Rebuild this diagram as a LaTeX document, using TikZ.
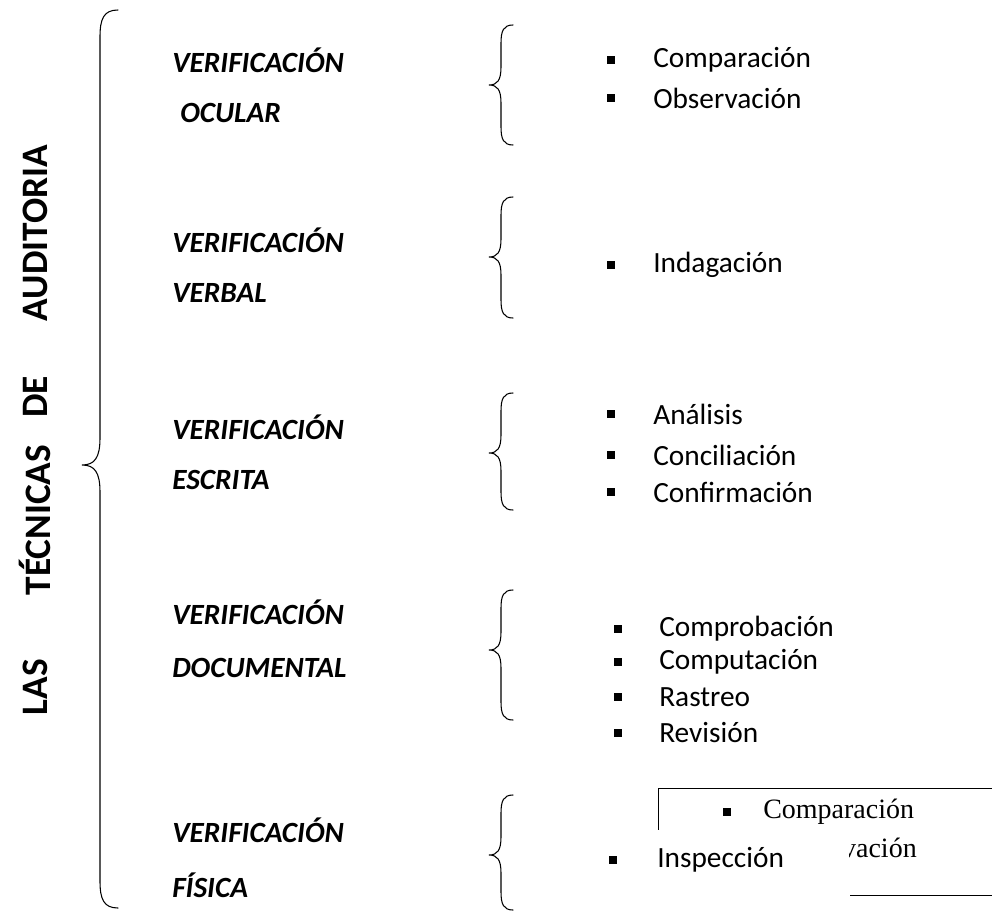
\documentclass[tikz,border=0pt]{standalone}
\usepackage{fontspec}
\setmainfont{Carlito}
\newfontfamily\cajafont{Liberation Serif}

\tikzset{
  llave/.style={line width=0.8pt, line cap=round},
  titulo/.style={rotate=90, inner sep=0pt, font=\fontsize{28}{32}\selectfont\bfseries},
  tecnica/.style={anchor=west, inner sep=0pt, font=\fontsize{22}{26}\selectfont\bfseries\itshape},
  item/.style={anchor=west, inner sep=0pt, font=\fontsize{22}{26}\selectfont},
  vineta/.style={fill, minimum size=5.5pt, inner sep=0pt},
  cajaitem/.style={inner sep=0pt, font=\fontsize{21}{24}\cajafont}
}

% brace: x, top, tip, bottom, reach
\newcommand{\llave}[5]{%
  \draw[llave] ({#1+#5},#2) .. controls ({#1+0.2*#5},#2) and (#1,{#2+0.5*#5}) .. (#1,{#2+1.5*#5})
    -- (#1,{#3-1.5*#5}) .. controls (#1,{#3-0.4*#5}) and ({#1-0.3*#5},#3) .. ({#1-#5},#3)
    .. controls ({#1-0.3*#5},#3) and (#1,{#3+0.4*#5}) .. (#1,{#3+1.5*#5})
    -- (#1,{#4-1.5*#5}) .. controls (#1,{#4-0.5*#5}) and ({#1+0.2*#5},#4) .. ({#1+#5},#4);}

\begin{document}
\begin{tikzpicture}[x=0.75pt, y=-0.75pt]
    \useasboundingbox (0,0) rectangle (992,913);

    % Title
    \node[titulo] (t1) at (35,687) {LAS};
    \node[titulo] (t2) at (35,520) {TÉCNICAS};
    \node[titulo] (t3) at (35,397) {DE};
    \node[titulo] (t4) at (35,233) {AUDITORIA};

    % Big brace
    \llave{100}{10}{465}{908}{18}

    % Verificacion ocular
    \node[tecnica] (v1a) at (172,60) {VERIFICACIÓN};
    \node[tecnica] (v1b) at (180,113) {OCULAR};
    \llave{501}{25}{85}{145}{12}
    \node[vineta] (b11) at (611,60) {};
    \node[item] (i11) at (653,60) {Comparación};
    \node[vineta] (b12) at (611,98) {};
    \node[item] (i12) at (653,98) {Observación};

    % Verificacion verbal
    \node[tecnica] (v2a) at (172,240) {VERIFICACIÓN};
    \node[tecnica] (v2b) at (172,293) {VERBAL};
    \llave{501}{197}{257}{318}{12}
    \node[vineta] (b21) at (611,265) {};
    \node[item] (i21) at (653,265) {Indagación};

    % Verificacion escrita
    \node[tecnica] (v3a) at (172,427) {VERIFICACIÓN};
    \node[tecnica] (v3b) at (172,480) {ESCRITA};
    \llave{501}{393}{453}{510}{12}
    \node[vineta] (b31) at (611,414) {};
    \node[item] (i31) at (653,414) {Análisis};
    \node[vineta] (b32) at (611,455) {};
    \node[item] (i32) at (653,455) {Conciliación};
    \node[vineta] (b33) at (611,492) {};
    \node[item] (i33) at (653,492) {Confirmación};

    % Verificacion documental
    \node[tecnica] (v4a) at (172,612) {VERIFICACIÓN};
    \node[tecnica] (v4b) at (172,668) {DOCUMENTAL};
    \llave{501}{590}{650}{720}{12}
    \node[vineta] (b41) at (618,629) {};
    \node[item] (i41) at (659,629) {Comprobación};
    \node[vineta] (b42) at (618,662) {};
    \node[item] (i42) at (659,662) {Computación};
    \node[vineta] (b43) at (618,697) {};
    \node[item] (i43) at (659,697) {Rastreo};
    \node[vineta] (b44) at (618,733) {};
    \node[item] (i44) at (659,733) {Revisión};

    % Verificacion fisica
    \node[tecnica] (v5a) at (172,830) {VERIFICACIÓN};
    \node[tecnica] (v5b) at (172,885) {FÍSICA};
    \llave{501}{795}{855}{910}{12}

    % Stray text box
    \draw[line width=0.6pt] (658,830) -- (658,788) -- (992,788);
    \draw[line width=0.6pt] (850,895) -- (992,895);
    \node[vineta] (b51) at (727,812) {};
    \node[cajaitem, anchor=west] (i51) at (763,812) {Comparación};
    \node[cajaitem, anchor=east] (i52) at (917,848) {Observación};
    \fill[white] (600,830) rectangle (849,905);

    \node[vineta] (b61) at (613,860) {};
    \node[item] (i61) at (657,860) {Inspección};
\end{tikzpicture}
\end{document}
